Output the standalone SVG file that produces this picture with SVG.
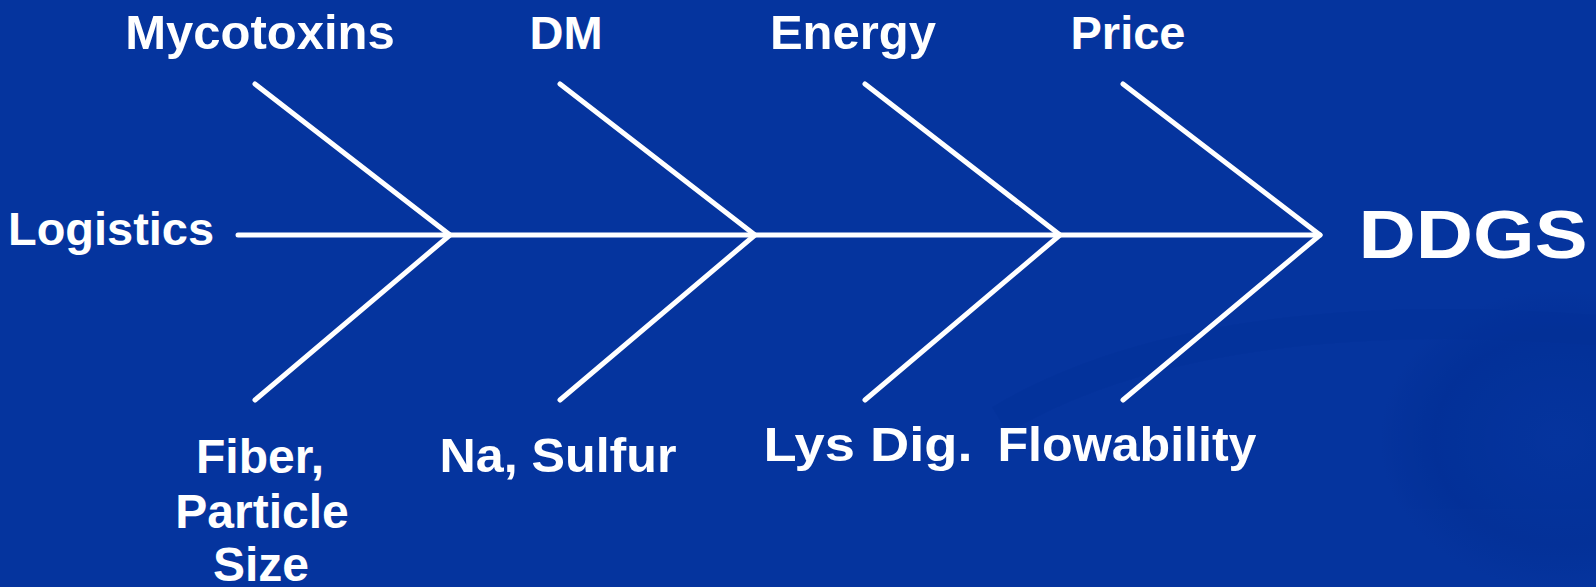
<svg xmlns="http://www.w3.org/2000/svg" width="1596" height="587" viewBox="0 0 1596 587">
  <defs>
    <style>
      .lbl { font-family: "Liberation Sans", Arial, sans-serif; font-weight: bold; fill: #ffffff; text-anchor: middle; }
      .bone { stroke: #ffffff; stroke-width: 5; stroke-linecap: round; stroke-linejoin: round; fill: none; }
    </style>
    <radialGradient id="swoosh" cx="0.5" cy="0.5" r="0.5">
      <stop offset="0" stop-color="#002f94" stop-opacity="0.0"/>
      <stop offset="0.7" stop-color="#002a8c" stop-opacity="0.5"/>
      <stop offset="1" stop-color="#002a8c" stop-opacity="0"/>
    </radialGradient>
  </defs>
  <rect x="0" y="0" width="1596" height="587" fill="#05349e"/>
  <g id="background-decor" opacity="0.6">
    <ellipse cx="1560" cy="440" rx="180" ry="150" fill="url(#swoosh)"/>
    <path d="M1000 420 Q1200 300 1596 330" stroke="#002c8f" stroke-width="30" fill="none" opacity="0.25"/>
  </g>
  <g id="connectors">
    <line class="bone" x1="238" y1="235" x2="1320" y2="235"/>
    <polyline class="bone" points="255,84 450,235 255,400"/>
    <polyline class="bone" points="560,84 755,235 560,400"/>
    <polyline class="bone" points="865,84 1060,235 865,400"/>
    <polyline class="bone" points="1123,84 1320,235 1123,400"/>
  </g>
  <g id="node-mycotoxins"><text class="lbl" x="260" y="49" font-size="49">Mycotoxins</text></g>
  <g id="node-dm"><text class="lbl" x="566" y="49" font-size="47">DM</text></g>
  <g id="node-energy"><text class="lbl" x="853" y="49" font-size="49">Energy</text></g>
  <g id="node-price"><text class="lbl" x="1128" y="49" font-size="47">Price</text></g>
  <g id="node-logistics"><text class="lbl" x="111" y="245" font-size="46" textLength="206" lengthAdjust="spacingAndGlyphs">Logistics</text></g>
  <g id="node-ddgs"><text class="lbl" x="1473" y="258" font-size="68" textLength="229" lengthAdjust="spacingAndGlyphs">DDGS</text></g>
  <g id="node-fiber">
    <text class="lbl" x="260" y="473" font-size="48">Fiber,</text>
    <text class="lbl" x="262" y="528" font-size="48">Particle</text>
    <text class="lbl" x="261" y="581" font-size="48">Size</text>
  </g>
  <g id="node-nasulfur"><text class="lbl" x="558" y="472" font-size="49" textLength="237" lengthAdjust="spacingAndGlyphs">Na, Sulfur</text></g>
  <g id="node-lysdig"><text class="lbl" x="868" y="461" font-size="49" textLength="209" lengthAdjust="spacingAndGlyphs">Lys Dig.</text></g>
  <g id="node-flowability"><text class="lbl" x="1127" y="461" font-size="49" textLength="259" lengthAdjust="spacingAndGlyphs">Flowability</text></g>
</svg>
